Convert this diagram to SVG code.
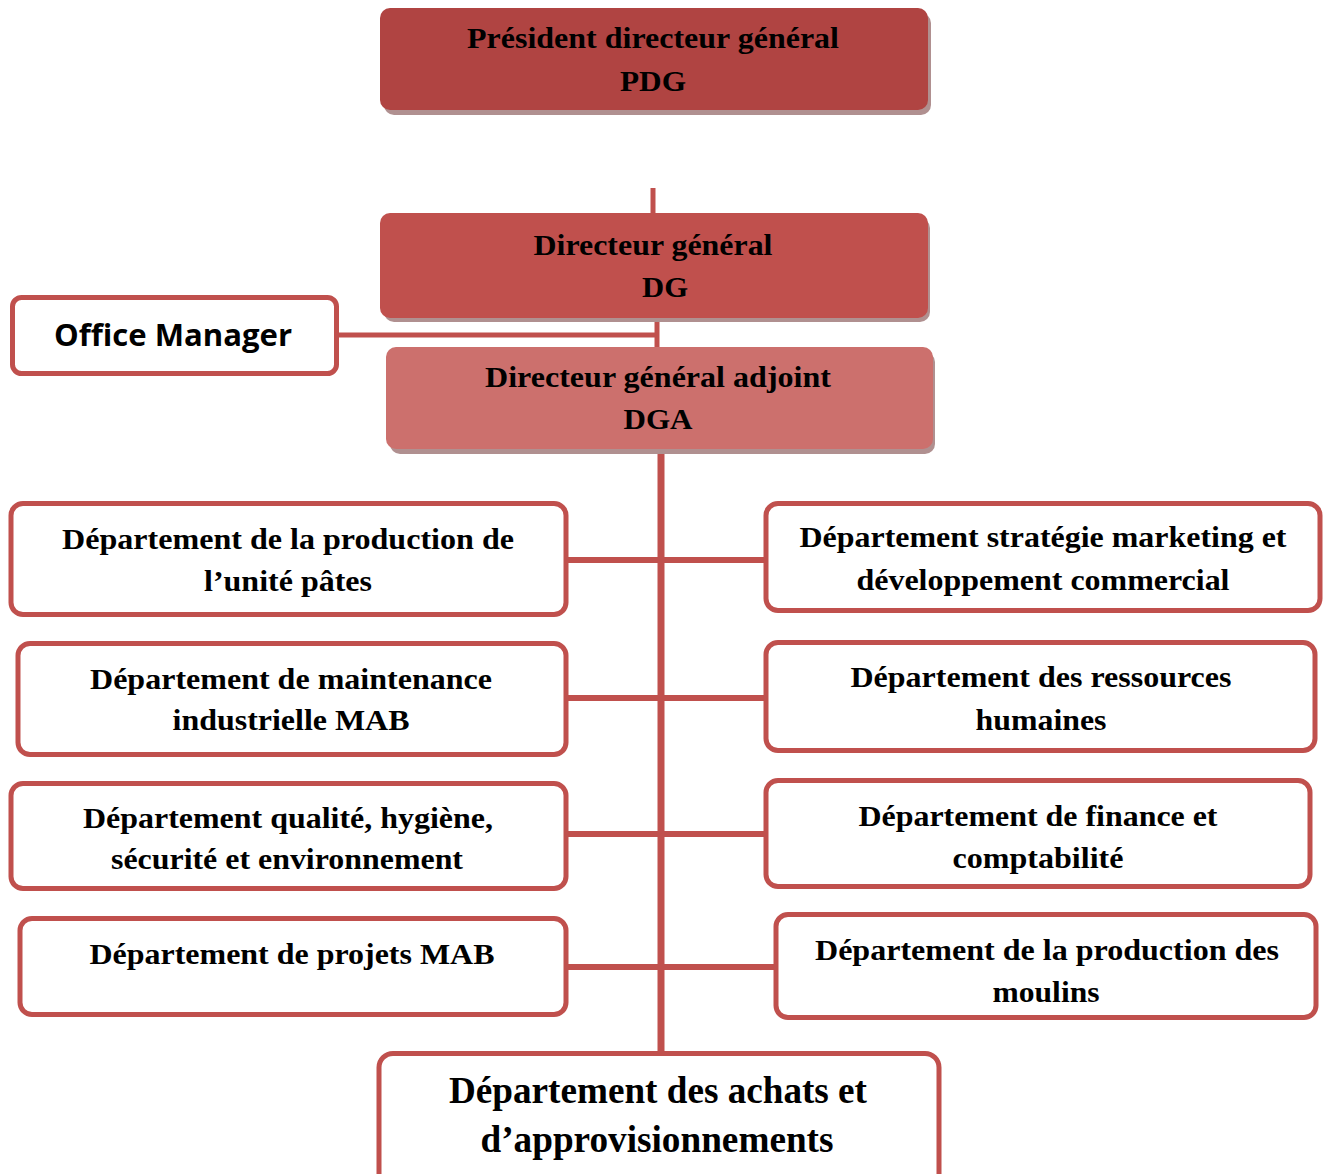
<svg xmlns="http://www.w3.org/2000/svg" width="1327" height="1174" viewBox="0 0 1327 1174">
  <style>
    .lbl { font-family: "Liberation Serif", "Times New Roman", serif; font-weight: bold; fill: #000; text-anchor: middle; }
    .t29 { font-size: 30px; }
    .t37 { font-size: 37px; }
    .om { font-family: "Open Sans", "Liberation Sans", sans-serif; font-weight: bold; font-size: 31px; fill: #000; text-anchor: middle; }
    .dept { fill: #fff; stroke: #C0504D; stroke-width: 5; }
    .shadow { fill: #b09090; }
    .wire { stroke: #C0504D; fill: none; }
  </style>

  <rect width="1327" height="1174" fill="#fff"/>

  <!-- connectors -->
  <g id="connectors">
    <line class="wire" x1="653" y1="188" x2="653" y2="214" stroke-width="5"/>
    <line class="wire" x1="657" y1="318" x2="657" y2="348" stroke-width="5"/>
    <line class="wire" x1="338" y1="335" x2="657" y2="335" stroke-width="5"/>
    <line class="wire" x1="661" y1="449" x2="661" y2="1053" stroke-width="7"/>
    <line class="wire" x1="566" y1="560" x2="766" y2="560" stroke-width="6"/>
    <line class="wire" x1="566" y1="698" x2="766" y2="698" stroke-width="6"/>
    <line class="wire" x1="566" y1="834" x2="766" y2="834" stroke-width="6"/>
    <line class="wire" x1="566" y1="967" x2="776" y2="967" stroke-width="6"/>
  </g>

  <!-- President directeur general -->
  <g id="pdg">
    <rect class="shadow" x="384" y="13" width="547" height="102" rx="10"/>
    <rect x="380" y="8" width="548" height="102" rx="10" fill="#B04442"/>
    <text class="lbl t29" x="653" y="48" textLength="372" lengthAdjust="spacingAndGlyphs">Président directeur général</text>
    <text class="lbl t29" x="653" y="91" textLength="66" lengthAdjust="spacingAndGlyphs">PDG</text>
  </g>

  <!-- Directeur general -->
  <g id="dg">
    <rect class="shadow" x="384" y="218" width="546" height="104" rx="10"/>
    <rect x="380" y="213" width="548" height="105" rx="10" fill="#C0504D"/>
    <text class="lbl t29" x="653" y="255" textLength="239" lengthAdjust="spacingAndGlyphs">Directeur général</text>
    <text class="lbl t29" x="665" y="297" textLength="46" lengthAdjust="spacingAndGlyphs">DG</text>
  </g>

  <!-- Office Manager -->
  <g id="office-manager">
    <rect class="dept" x="12.5" y="297.5" width="324" height="76" rx="9"/>
    <text class="om" x="173" y="346" textLength="238" lengthAdjust="spacingAndGlyphs">Office Manager</text>
  </g>

  <!-- Directeur general adjoint -->
  <g id="dga">
    <rect class="shadow" x="390" y="352" width="545" height="102" rx="10"/>
    <rect x="386" y="347" width="547" height="102" rx="10" fill="#CC706D"/>
    <text class="lbl t29" x="658" y="387" textLength="346" lengthAdjust="spacingAndGlyphs">Directeur général adjoint</text>
    <text class="lbl t29" x="658" y="429" textLength="69" lengthAdjust="spacingAndGlyphs">DGA</text>
  </g>

  <!-- left column -->
  <g id="dep-pates">
    <rect class="dept" x="11" y="503.5" width="555" height="111" rx="12"/>
    <text class="lbl t29" x="288" y="549" textLength="452" lengthAdjust="spacingAndGlyphs">Département de la production de</text>
    <text class="lbl t29" x="288" y="591" textLength="168" lengthAdjust="spacingAndGlyphs">l’unité pâtes</text>
  </g>
  <g id="dep-maintenance">
    <rect class="dept" x="18" y="643.5" width="548" height="111" rx="12"/>
    <text class="lbl t29" x="291" y="689" textLength="402" lengthAdjust="spacingAndGlyphs">Département de maintenance</text>
    <text class="lbl t29" x="291" y="730" textLength="237" lengthAdjust="spacingAndGlyphs">industrielle MAB</text>
  </g>
  <g id="dep-qhse">
    <rect class="dept" x="11" y="783.5" width="555" height="105" rx="12"/>
    <text class="lbl t29" x="288" y="828" textLength="410" lengthAdjust="spacingAndGlyphs">Département qualité, hygiène,</text>
    <text class="lbl t29" x="287" y="869" textLength="352" lengthAdjust="spacingAndGlyphs">sécurité et environnement</text>
  </g>
  <g id="dep-projets">
    <rect class="dept" x="20" y="918.5" width="546" height="96" rx="12"/>
    <text class="lbl t29" x="292" y="964" textLength="405" lengthAdjust="spacingAndGlyphs">Département de projets MAB</text>
  </g>

  <!-- right column -->
  <g id="dep-marketing">
    <rect class="dept" x="766" y="503.5" width="554" height="107" rx="12"/>
    <text class="lbl t29" x="1043" y="547" textLength="487" lengthAdjust="spacingAndGlyphs">Département stratégie marketing et</text>
    <text class="lbl t29" x="1043" y="590" textLength="373" lengthAdjust="spacingAndGlyphs">développement commercial</text>
  </g>
  <g id="dep-rh">
    <rect class="dept" x="766" y="642.5" width="549" height="108" rx="12"/>
    <text class="lbl t29" x="1041" y="687" textLength="381" lengthAdjust="spacingAndGlyphs">Département des ressources</text>
    <text class="lbl t29" x="1041" y="730" textLength="131" lengthAdjust="spacingAndGlyphs">humaines</text>
  </g>
  <g id="dep-finance">
    <rect class="dept" x="766" y="780.5" width="544" height="106" rx="12"/>
    <text class="lbl t29" x="1038" y="826" textLength="359" lengthAdjust="spacingAndGlyphs">Département de finance et</text>
    <text class="lbl t29" x="1038" y="868" textLength="171" lengthAdjust="spacingAndGlyphs">comptabilité</text>
  </g>
  <g id="dep-moulins">
    <rect class="dept" x="776" y="914.5" width="540" height="103" rx="12"/>
    <text class="lbl t29" x="1047" y="960" textLength="464" lengthAdjust="spacingAndGlyphs">Département de la production des</text>
    <text class="lbl t29" x="1046" y="1002" textLength="107" lengthAdjust="spacingAndGlyphs">moulins</text>
  </g>

  <!-- bottom -->
  <g id="dep-achats">
    <rect class="dept" x="379" y="1053.5" width="560" height="140" rx="14"/>
    <text class="lbl t37" x="658" y="1103" textLength="418" lengthAdjust="spacingAndGlyphs">Département des achats et</text>
    <text class="lbl t37" x="657" y="1152" textLength="353" lengthAdjust="spacingAndGlyphs">d’approvisionnements</text>
  </g>
</svg>
